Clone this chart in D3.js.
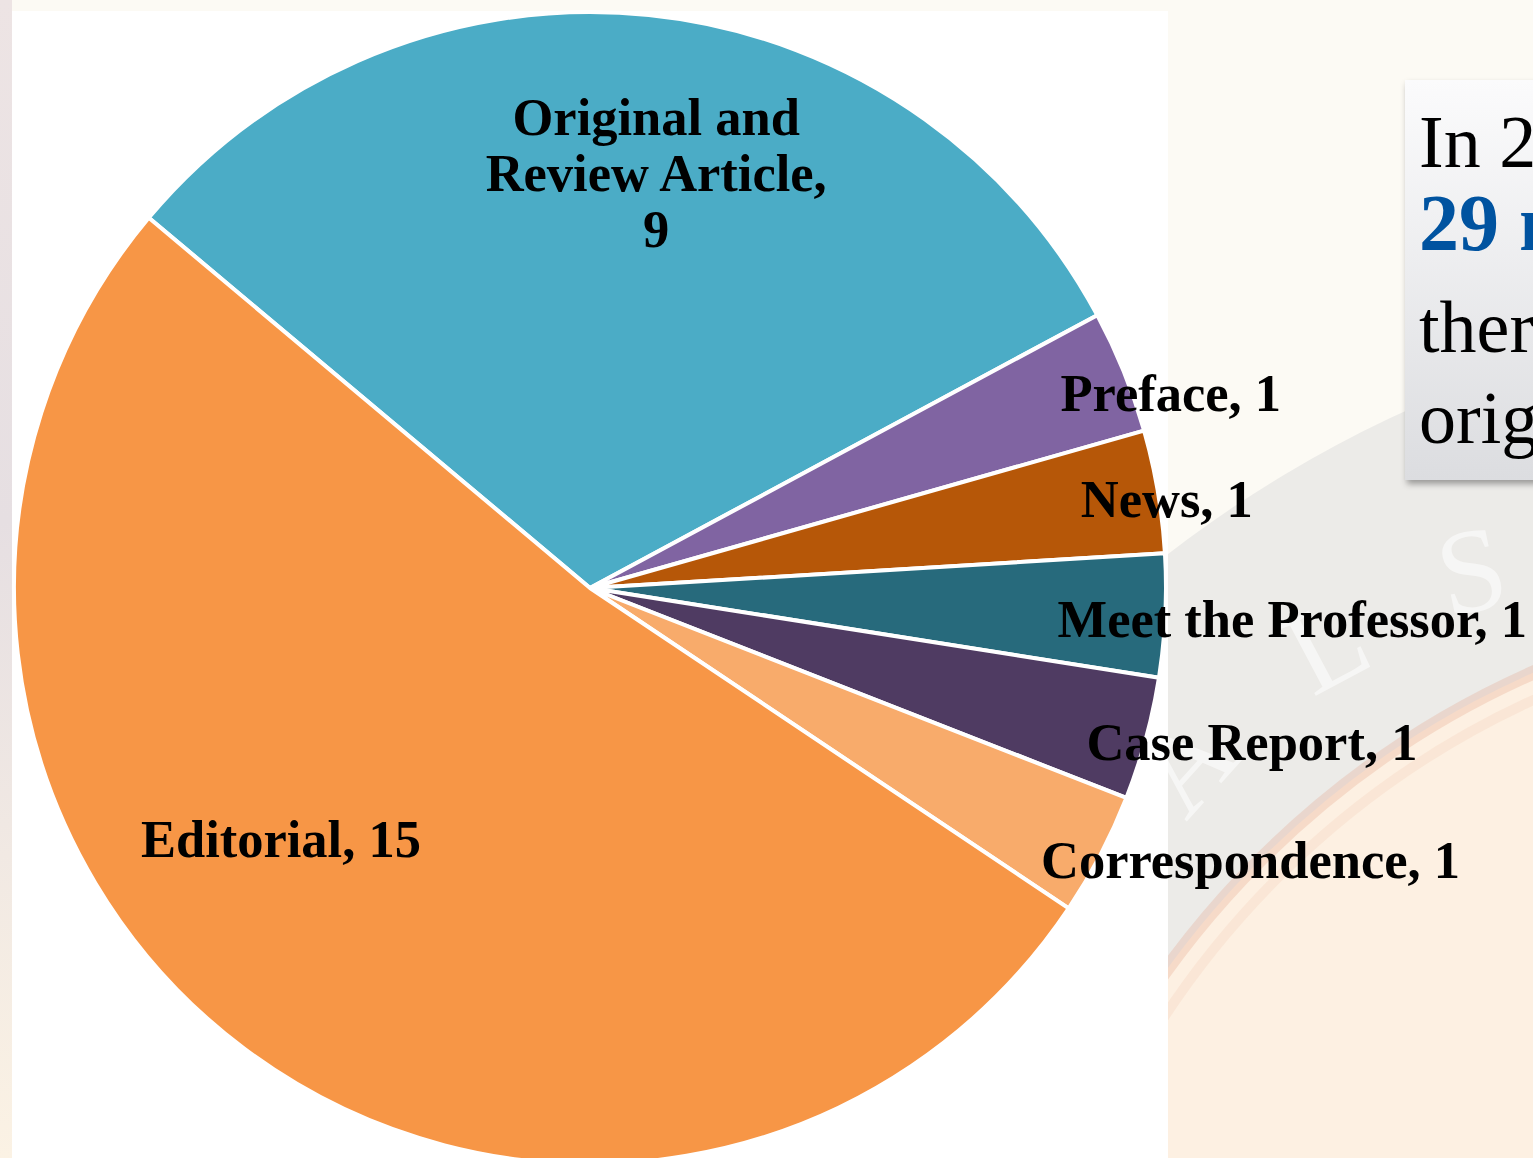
<!DOCTYPE html>
<html>
<head>
<meta charset="utf-8">
<script src="https://cdn.jsdelivr.net/npm/d3@7"></script>
<style>
  html, body { margin: 0; padding: 0; background: #fcfaf4; overflow: hidden; }
  svg { display: block; }
</style>
</head>
<body>
<svg id="chart" width="1533" height="1158"></svg>
<script>
// chart data
const categories = ["Original and Review Article", "Preface", "News", "Meet the Professor", "Case Report", "Correspondence", "Editorial"];
const counts = [9, 1, 1, 1, 1, 1, 15];
const colors = ["#4bacc6", "#8064a2", "#b65708", "#276a7c", "#4f3b62", "#f8ab6b", "#f79646"];

// side note text (clipped by the page edge, like the slide)
const noteLines = ["In 2021, JALS published", "29 manuscripts,", "there were 9", "original articles"];

const width = 1533;
const height = 1158;
const cx = 590;
const cy = 588;
const radius = 576;

// label nudges (px) relative to the computed anchor
const labelNudge = {
  "Original and Review Article": [25, -52],
  "Editorial": [-67, -53],
  "Preface": [47, 39],
  "News": [9, 26],
  "Meet the Professor": [127, 21],
  "Case Report": [106, 21],
  "Correspondence": [150, 23]
};
const insideLabels = ["Original and Review Article", "Editorial"];

const svg = d3.select("#chart");
const defs = svg.append("defs");

// ---- background ----
const leftGrad = defs.append("linearGradient")
  .attr("id", "leftGrad").attr("x1", 0).attr("y1", 0).attr("x2", 0).attr("y2", 1);
leftGrad.append("stop").attr("offset", "0%").attr("stop-color", "#ede4e4");
leftGrad.append("stop").attr("offset", "45%").attr("stop-color", "#e6dfe2");
leftGrad.append("stop").attr("offset", "100%").attr("stop-color", "#fbf2e4");

svg.append("rect").attr("width", width).attr("height", height).attr("fill", "#fcfaf4");
svg.append("rect").attr("x", 0).attr("y", 0).attr("width", 12).attr("height", height).attr("fill", "url(#leftGrad)");

// seal watermark on the right side
const seal = svg.append("g");
seal.append("circle").attr("cx", 1900).attr("cy", 1500).attr("r", 1196).attr("fill", "#ecebe8");
seal.append("circle").attr("cx", 1900).attr("cy", 1500).attr("r", 905).attr("fill", "#fdf0e2")
  .attr("stroke", "rgba(225,140,110,0.22)").attr("stroke-width", 14);
seal.append("circle").attr("cx", 1900).attr("cy", 1500).attr("r", 880).attr("fill", "none")
  .attr("stroke", "rgba(240,190,160,0.18)").attr("stroke-width", 10);

const sealLetters = [["A", 1215, 790, -48], ["L", 1345, 680, -28], ["S", 1480, 610, -12]];
seal.selectAll("text.seal")
  .data(sealLetters)
  .enter()
  .append("text")
  .attr("class", "seal")
  .attr("transform", d => `translate(${d[1]},${d[2]}) rotate(${d[3]})`)
  .attr("text-anchor", "middle")
  .attr("font-family", "Liberation Serif, serif")
  .attr("font-size", 120)
  .attr("fill", "rgba(255,255,255,0.55)")
  .text(d => d[0]);

// white chart panel
svg.append("rect").attr("x", 12).attr("y", 11).attr("width", 1156).attr("height", height - 11).attr("fill", "#ffffff");

// ---- text box ----
const boxGrad = defs.append("linearGradient")
  .attr("id", "boxGrad").attr("x1", 0).attr("y1", 0).attr("x2", 0).attr("y2", 1);
boxGrad.append("stop").attr("offset", "0%").attr("stop-color", "#fbfbfc");
boxGrad.append("stop").attr("offset", "100%").attr("stop-color", "#dcdde0");

const shadow = defs.append("filter").attr("id", "shadow")
  .attr("x", "-10%").attr("y", "-10%").attr("width", "130%").attr("height", "130%");
shadow.append("feDropShadow").attr("dx", 2).attr("dy", 4).attr("stdDeviation", 3)
  .attr("flood-color", "#000").attr("flood-opacity", 0.35);

svg.append("rect")
  .attr("x", 1405).attr("y", 80).attr("width", 260).attr("height", 400)
  .attr("fill", "url(#boxGrad)")
  .attr("filter", "url(#shadow)");

const noteBaselines = [167, 250, 352, 443];
svg.selectAll("text.note")
  .data(noteLines)
  .enter()
  .append("text")
  .attr("class", "note")
  .attr("x", 1419)
  .attr("y", (d, i) => noteBaselines[i])
  .attr("font-family", "Liberation Serif, 'Times New Roman', serif")
  .attr("font-size", (d, i) => i === 1 ? 80 : 74)
  .attr("font-weight", (d, i) => i === 1 ? "bold" : "normal")
  .attr("fill", (d, i) => i === 1 ? "#0053a0" : "#000")
  .text(d => d);

// ---- pie ----
const startAngle = -50 * Math.PI / 180;
const pie = d3.pie()
  .sort(null)
  .value(d => d)
  .startAngle(startAngle)
  .endAngle(startAngle + 2 * Math.PI);

const arcs = pie(counts);

const arc = d3.arc().innerRadius(0).outerRadius(radius);
const innerLabelArc = d3.arc().innerRadius(radius * 0.7).outerRadius(radius * 0.7);
const edgeArc = d3.arc().innerRadius(radius).outerRadius(radius);

const pieG = svg.append("g").attr("transform", `translate(${cx},${cy})`);

pieG.selectAll("path.slice")
  .data(arcs)
  .enter()
  .append("path")
  .attr("class", "slice")
  .attr("d", arc)
  .attr("fill", (d, i) => colors[i])
  .attr("stroke", "#ffffff")
  .attr("stroke-width", 4)
  .attr("stroke-linejoin", "round");

// labels
const labelG = pieG.append("g")
  .attr("font-family", "Liberation Serif, 'Times New Roman', serif")
  .attr("font-weight", "bold")
  .attr("font-size", 52.5)
  .attr("fill", "#000")
  .attr("text-anchor", "middle");

arcs.forEach(function (d, i) {
  const name = categories[i];
  const inside = insideLabels.indexOf(name) >= 0;
  const p = inside ? innerLabelArc.centroid(d) : edgeArc.centroid(d);
  const nudge = labelNudge[name];
  const x = p[0] + nudge[0];
  const y = p[1] + nudge[1];

  const t = labelG.append("text").attr("x", x).attr("y", y);
  if (name === "Original and Review Article") {
    const lines = ["Original and", "Review Article,", String(counts[i])];
    lines.forEach(function (line, j) {
      t.append("tspan").attr("x", x).attr("dy", j === 0 ? 0 : 56).text(line);
    });
  } else {
    t.text(name + ", " + counts[i]);
  }
});
</script>
</body>
</html>
